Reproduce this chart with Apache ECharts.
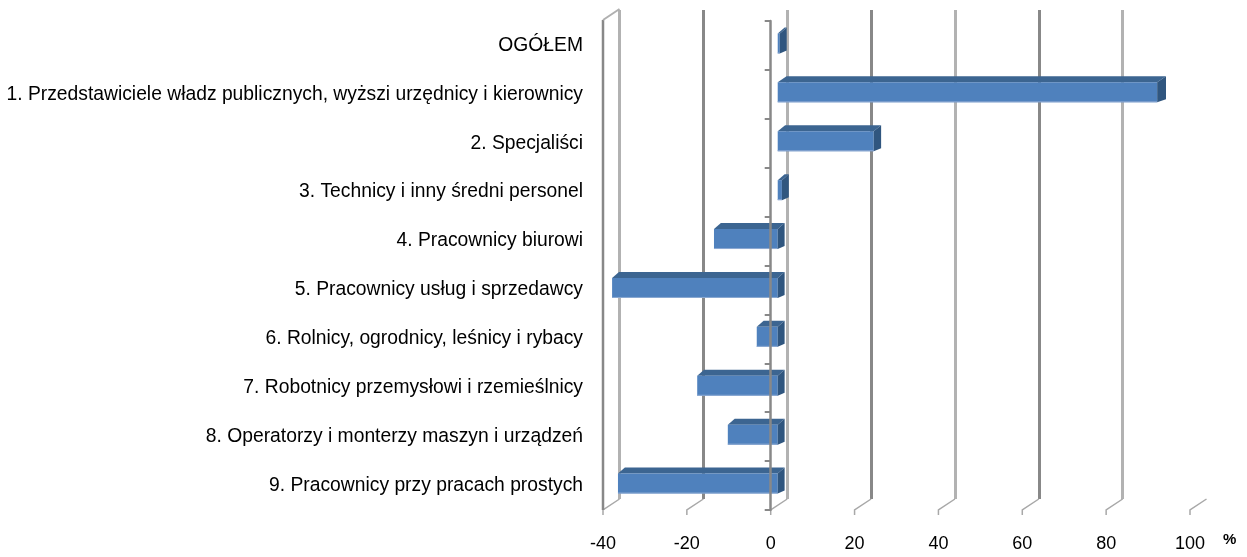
<!DOCTYPE html>
<html>
<head>
<meta charset="utf-8">
<script src="https://cdn.jsdelivr.net/npm/echarts@6/dist/echarts.min.js"></script>
<style>html,body{margin:0;padding:0;background:#fff;}#c{width:1247px;height:557px;}</style>
</head>
<body>
<div id="c"></div>
<script>
const categories = [
  'OGÓŁEM',
  '1. Przedstawiciele władz publicznych, wyższi urzędnicy i kierownicy',
  '2. Specjaliści',
  '3. Technicy i inny średni personel',
  '4. Pracownicy biurowi',
  '5. Pracownicy usług i sprzedawcy',
  '6. Rolnicy, ogrodnicy, leśnicy i rybacy',
  '7. Robotnicy przemysłowi i rzemieślnicy',
  '8. Operatorzy i monterzy maszyn i urządzeń',
  '9. Pracownicy przy pracach prostych'
];
const values = [0.5, 90.5, 22.9, 1.0, -15.2, -39.5, -5.0, -19.2, -11.9, -38.1];
const axisMin = -40, axisMax = 100, axisStep = 20;
const tickValues = [-40, -20, 0, 20, 40, 60, 80, 100];
const unitLabel = '%';

const FONT = 'Liberation Sans, Arial, sans-serif';
const FRONT = '#4f81bd', TOP = '#3c6591', SIDE = '#30567f';
const DEPTH_X = 16.5, DEPTH_Y = 11, BAR_SHIFT = 7;

const chart = echarts.init(document.getElementById('c'), null, {renderer: 'canvas'});

const barData = values.map((v, i) => [v, i]);
const frameData = tickValues.map((v, i) => [v, 0, i]);

chart.setOption({
  animation: false,
  backgroundColor: '#ffffff',
  grid: [
    {left: 603, width: 587, top: 21, height: 489, containLabel: false, outerBoundsMode: 'none'},
    {left: 619.5, width: 587, top: 10, height: 489, containLabel: false, outerBoundsMode: 'none'}
  ],
  xAxis: [
    {
      gridIndex: 0, type: 'value', min: axisMin, max: axisMax, interval: axisStep,
      axisLine: {show: false}, axisTick: {show: false}, splitLine: {show: false},
      axisLabel: {fontSize: 18, color: '#000', fontFamily: FONT, margin: 25}
    },
    {
      gridIndex: 1, type: 'value', min: axisMin, max: axisMax, interval: axisStep,
      axisLine: {show: false}, axisTick: {show: false}, axisLabel: {show: false},
      splitLine: {show: true, showMaxLine: false, lineStyle: {color: ['#b2b2b2', '#888888'], width: 3}}
    }
  ],
  yAxis: [
    {
      gridIndex: 0, type: 'category', data: categories, inverse: true, z: 10,
      axisLine: {show: true, onZero: true, lineStyle: {color: '#888888', width: 2.5}},
      axisTick: {show: true, length: 6, lineStyle: {color: '#888888', width: 2}},
      axisLabel: {fontSize: 19.3, color: '#000', fontFamily: FONT, margin: 20}
    },
    {gridIndex: 1, type: 'value', show: false, splitLine: {show: false}}
  ],
  series: [
    {
      type: 'custom', xAxisIndex: 0, yAxisIndex: 0, z: 1, silent: true,
      data: frameData,
      encode: {x: 0, y: 1},
      renderItem: function (params, api) {
        const cs = params.coordSys;
        const v = api.value(0);
        const fx = api.coord([v, 0])[0];
        const top = cs.y, bot = cs.y + cs.height;
        const light = {stroke: '#a8a8a8', lineWidth: 1.5, fill: null};
        const children = [
          {type: 'polyline', shape: {points: [[fx, bot + 5], [fx, bot], [fx + DEPTH_X, bot - DEPTH_Y]]}, style: light}
        ];
        if (v === axisMin) {
          children.push({type: 'line', shape: {x1: fx, y1: top - 1, x2: fx, y2: bot}, style: {stroke: '#888888', lineWidth: 2.5}});
          children.push({type: 'line', shape: {x1: fx, y1: top - 1, x2: fx + DEPTH_X, y2: top - 1 - DEPTH_Y}, style: {stroke: '#b0b0b0', lineWidth: 2}});
        }
        return {type: 'group', children: children};
      }
    },
    {
      type: 'custom', xAxisIndex: 0, yAxisIndex: 0, z: 3, silent: true,
      data: barData,
      encode: {x: 0, y: 1},
      renderItem: function (params, api) {
        const cs = params.coordSys;
        const v = api.value(0), c = api.value(1);
        const a = api.coord([0, c]), b = api.coord([v, c]);
        const cy = a[1];
        const xl = Math.min(a[0], b[0]) + BAR_SHIFT, xr = Math.max(a[0], b[0]) + BAR_SHIFT;
        const dx = 6 + 3 * (xr - cs.x) / cs.width;
        const t = cy - 12, bt = cy + 8;
        return {
          type: 'group',
          children: [
            {type: 'polygon', shape: {points: [[xl, t], [xr, t], [xr + dx, t - 6], [xl + dx, t - 6]]}, style: {fill: TOP}},
            {type: 'rect', shape: {x: xl, y: t, width: xr - xl, height: bt - t}, style: {fill: FRONT}},
            {type: 'line', shape: {x1: xl, y1: bt - 0.5, x2: xr, y2: bt - 0.5}, style: {stroke: '#8eaad3', lineWidth: 1}},
            {type: 'polygon', shape: {points: [[xr, t], [xr + dx, t - 6], [xr + dx, bt - 3], [xr, bt]]}, style: {fill: SIDE}}
          ]
        };
      }
    }
  ],
  graphic: [
    {type: 'text', left: 1223, top: 532, style: {text: unitLabel, font: 'bold 15px ' + FONT, fill: '#000'}}
  ]
});
</script>
</body>
</html>
